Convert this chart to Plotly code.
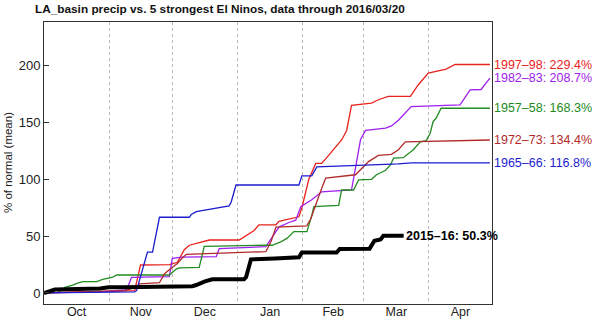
import pandas as pd
import plotly.graph_objects as go

# ---- data (days since Oct 1 of the season, % of normal) ----
season_start = "2015-10-01"

days_1997 = [0, 26.5, 43.1, 45.9, 59.6, 63.4, 66.7, 69.1, 78.6, 92.8, 96.1, 99.9, 102.2, 110.3, 111.7,
             121.2, 122.6, 125.9, 129.2, 132.0, 133.9, 136.8, 141.5, 143.9, 146.2, 155.7, 159.0, 163.7,
             174.2, 177.9, 182.7, 191.2, 195.5, 212]
vals_1997 = [0, 1, 2, 24.6, 25, 27, 38, 42, 46.6, 46.6, 50.4, 55, 60, 60, 63, 67, 75, 100, 114, 114,
             118, 124, 134.6, 143, 165, 167, 170, 173, 173, 183, 193.5, 197, 201, 201]

days_1982 = [0, 26.5, 38.8, 39.8, 41.6, 59.6, 61.0, 65.8, 81.9, 83.3, 105.5, 107.0, 111.7, 116.4, 119.7,
             122.1, 127.3, 132.0, 146.2, 148.1, 150.5, 152.9, 162.4, 165.2, 168.5, 174.6, 197.8, 202.6,
             207.8, 212]
vals_1982 = [0, 1, 2.6, 5, 13.8, 14.4, 30.5, 31.5, 32, 39, 40.8, 45, 58, 62, 64, 76, 82, 89, 90.6, 110,
             135, 143, 145, 147, 152, 164, 165.4, 178.6, 179, 189]

days_1957 = [0, 6.6, 8.5, 9.9, 13.7, 15.6, 18.5, 25.1, 27.9, 32.7, 34.6, 59.6, 62.9, 64.4, 73.8, 76.2,
             105.5, 108.4, 112.6, 115.5, 118.8, 125.0, 127.3, 128.3, 140.1, 141.5, 147.2, 149.6, 155.7,
             158.1, 162.4, 164.7, 166.2, 170.8, 175.6, 178.9, 181.7, 183.6, 185.0, 186.4, 188.8, 212]
vals_1957 = [0, 0.5, 2.6, 5, 7, 8.5, 10, 10, 12, 14, 15.8, 15.8, 21, 22, 22.5, 41, 42, 42, 45, 48, 54,
             54, 68, 76, 77, 90.6, 90.6, 99.6, 100, 104, 108, 112.6, 118.6, 119, 126, 133, 134, 140.5,
             150.7, 153.7, 162.5, 162.5]

days_1972 = [0, 26.5, 38.3, 44.0, 45.4, 54.9, 57.3, 60.6, 63.4, 65.8, 67.7, 84.3, 105.5, 107.9, 110.3,
             124.9, 126.8, 131.6, 133.9, 148.1, 154.3, 159.0, 165.2, 168.5, 171.8, 212]
vals_1972 = [0, 1, 2, 5, 8, 9, 17, 22, 26, 31, 34, 35, 36.4, 45, 58, 59, 65, 90, 101, 104, 115.6, 121,
             122, 126, 133, 134.6]

days_1965 = [0, 26.5, 43.1, 44.0, 48.3, 49.2, 51.6, 54.9, 69.1, 70.0, 72.4, 88.0, 89.0, 91.3, 121.2,
             122.6, 127.3, 129.7, 168.5, 174.6, 212]
vals_1965 = [0, 0.5, 1, 2, 30, 36, 36, 66.6, 66.6, 69, 71.6, 76.6, 80, 95, 95, 103, 103, 111, 113.5,
             114.4, 114.4]

days_2015 = [0, 2.8, 5.2, 26.5, 30.8, 37.4, 70.5, 72.4, 76.2, 80, 95.1, 96.1, 98.4, 109.8, 121.2, 122.6,
             139.1, 140.6, 154.8, 157.1, 160, 161.4, 171]
vals_2015 = [0, 2, 3, 4, 5, 5, 6, 7, 10, 12, 12, 14, 29.6, 30.4, 31.4, 35.5, 35.5, 38.7, 39, 46, 47,
             50.4, 50.3]

series_names = ["1997–98", "1982–83", "1957–58", "1972–73", "1965–66"]
series_pct = ["229.4%", "208.7%", "168.3%", "134.4%", "116.8%"]
series_days = [days_1997, days_1982, days_1957, days_1972, days_1965]
series_vals = [vals_1997, vals_1982, vals_1957, vals_1972, vals_1965]
series_colors = ["#e8221c", "#a020f0", "#228b22", "#b22a2a", "#1c1cd0"]

current_name = "2015–16"
current_pct = "50.3%"

title_text = "LA_basin precip vs. 5 strongest El Ninos, data through 2016/03/20"
y_title = "% of normal (mean)"
y_ticks = [0, 50, 100, 150, 200]

FONT = "Liberation Sans, Arial, sans-serif"
t0 = pd.Timestamp(season_start)


def to_dates(days):
    return [t0 + pd.Timedelta(days=d) for d in days]


fig = go.Figure()
annotations = []
for name, pct, d, v, c in zip(series_names, series_pct, series_days, series_vals, series_colors):
    xs = to_dates(d)
    fig.add_trace(go.Scatter(x=xs, y=v, mode="lines", line=dict(color=c, width=1.3),
                             showlegend=False, hoverinfo="skip"))
    annotations.append(dict(x=xs[-1], y=v[-1], xref="x", yref="y", text=f"{name}: {pct}",
                            showarrow=False, xanchor="left", yanchor="middle", xshift=2,
                            font=dict(family=FONT, size=12.5, color=c)))

xs = to_dates(days_2015)
fig.add_trace(go.Scatter(x=xs, y=vals_2015, mode="lines", line=dict(color="black", width=4),
                         showlegend=False, hoverinfo="skip"))
annotations.append(dict(x=xs[-1], y=vals_2015[-1], xref="x", yref="y",
                        text=f"<b>{current_name}: {current_pct}</b>", showarrow=False,
                        xanchor="left", yanchor="middle", xshift=0,
                        font=dict(family=FONT, size=12.5, color="black")))

annotations.append(dict(x=0, y=0.5, xref="paper", yref="paper", text=y_title, textangle=-90,
                        showarrow=False, xanchor="center", yanchor="middle", xshift=-36,
                        font=dict(family=FONT, size=11.5, color="#222")))

fig.update_layout(
    template="none",
    width=600, height=325,
    margin=dict(l=44, r=108, t=22, b=21, autoexpand=False),
    paper_bgcolor="white", plot_bgcolor="white",
    title=dict(text=f"<b>{title_text}</b>", x=35 / 600, xanchor="left", xref="container",
               y=1 - 9 / 325, yanchor="middle", yref="container",
               font=dict(family=FONT, size=11.8, color="#111")),
    annotations=annotations,
    showlegend=False,
)

fig.update_xaxes(
    type="date", automargin=False,
    range=[t0, pd.Timestamp("2016-05-01")],
    dtick="M1", tick0=season_start, ticklabelmode="period", tickformat="%b",
    ticks="", ticklabelstandoff=-4,
    showgrid=True, gridcolor="#b8b8b8", griddash="dot", gridwidth=1,
    minor=dict(dtick="M1", tick0=season_start, ticks="outside", ticklen=5,
               tickcolor="#333", showgrid=False),
    showline=True, linecolor="#333", linewidth=1, mirror=True,
    tickfont=dict(family=FONT, size=12.5, color="#222"),
    zeroline=False, fixedrange=True,
)
fig.update_yaxes(
    automargin=False,
    range=[-9.7, 238.4], tickvals=y_ticks, ticks="inside", ticklen=5, tickcolor="#333",
    showgrid=False, zeroline=False, showline=True, linecolor="#333", linewidth=1, mirror=True,
    tickfont=dict(family=FONT, size=13, color="#222"), fixedrange=True,
)

fig.write_html("out.html")
